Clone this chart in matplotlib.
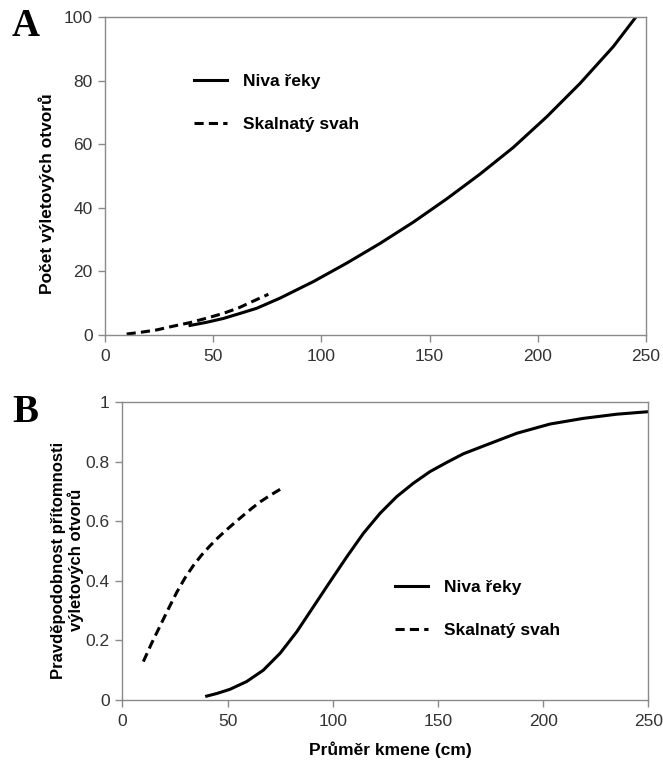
import matplotlib
matplotlib.use("Agg")
import matplotlib.pyplot as plt

plt.rcParams['font.family'] = ['Liberation Sans', 'DejaVu Sans']

# Panel A: number of exit holes vs. trunk diameter
a_niva_x = [39.3, 47, 54.7, 62, 70.1, 80.9, 96.3, 111.7, 127.1, 142.5, 157.9, 173.3, 188.7, 204.1, 219.5, 234.9, 244.9]
a_niva_y = [3.0, 4.0, 5.2, 6.7, 8.4, 11.6, 16.8, 22.6, 28.8, 35.5, 42.8, 50.6, 59.0, 68.6, 79.1, 90.7, 99.6]
a_skal_x = [10, 17, 23.9, 31, 39.3, 47, 54.7, 62, 68, 75.5]
a_skal_y = [0.3, 0.9, 1.6, 2.7, 3.9, 5.3, 6.8, 8.6, 10.5, 12.8]

# Panel B: probability of exit hole presence
b_niva_x = [40.1, 45, 51.2, 59.1, 67.0, 75.0, 82.9, 90.8, 98.7, 106.7, 114.6, 122.5, 130.4, 138.3, 146.2,
            154.2, 162.1, 171.6, 187.5, 203.3, 219.1, 235.0, 249.2]
b_niva_y = [0.013, 0.022, 0.036, 0.062, 0.100, 0.157, 0.229, 0.313, 0.397, 0.481, 0.560, 0.627, 0.683, 0.728, 0.767,
            0.798, 0.827, 0.853, 0.896, 0.927, 0.946, 0.960, 0.968]
b_skal_x = [10, 13.9, 17.9, 21.9, 25.9, 29.8, 33.8, 37.7, 41.7, 45.6, 49.6, 53.5, 57.5, 61.4, 65.4, 70.6, 75.8]
b_skal_y = [0.129, 0.19, 0.248, 0.306, 0.362, 0.410, 0.452, 0.487, 0.518, 0.546, 0.572, 0.596, 0.620, 0.643, 0.665, 0.689, 0.711]

xticks = [0, 50, 100, 150, 200, 250]
a_yticks = [0, 20, 40, 60, 80, 100]
b_yticks = [0, 0.2, 0.4, 0.6, 0.8, 1.0]
b_yticklabels = ['0', '0.2', '0.4', '0.6', '0.8', '1']

labels = ['Niva řeky', 'Skalnatý svah']

fig = plt.figure(figsize=(6.63, 7.65), dpi=100)
axA = fig.add_axes([105/663, 1-335/765, (646-105)/663, (335-17)/765])
axB = fig.add_axes([122.3/663, 1-700/765, (648.3-122.3)/663, (700-402.3)/765])

spine_col = '#8a8a8a'
tick_col = '#333333'
FS_TICK = 12.5
FS_LAB = 12.5

def style(ax):
    for s in ax.spines.values():
        s.set_color(spine_col)
        s.set_linewidth(1.0)
    ax.tick_params(direction='out', length=5, width=1, color=spine_col,
                   labelcolor=tick_col, labelsize=FS_TICK, pad=4)
    ax.tick_params(axis='x', pad=5)

lwd = 2.2
leg_kw = dict(frameon=False, prop={'weight': 'bold', 'size': FS_LAB},
              handlelength=1.9, handletextpad=0.9, labelspacing=1.6,
              borderpad=0, borderaxespad=0, loc='center left')

axA.plot(a_niva_x, a_niva_y, color='black', lw=lwd, label=labels[0])
axA.plot(a_skal_x, a_skal_y, color='black', lw=lwd, dashes=(3.0, 1.7), label=labels[1])
axA.set_xlim(0, 250)
axA.set_ylim(0, 100)
axA.set_xticks(xticks)
axA.set_yticks(a_yticks)
style(axA)
axA.set_ylabel('Počet výletových otvorů', fontsize=FS_LAB, fontweight='bold', va='center')
axA.yaxis.set_label_coords((46.7-105)/541, (335-193.5)/318)
axA.legend(bbox_to_anchor=((194-105)/541, (335-103)/318), **leg_kw)

axB.plot(b_niva_x, b_niva_y, color='black', lw=lwd, label=labels[0])
axB.plot(b_skal_x, b_skal_y, color='black', lw=lwd, dashes=(3.0, 1.7), label=labels[1])
axB.set_xlim(0, 250)
axB.set_ylim(0, 1)
axB.set_xticks(xticks)
axB.set_yticks(b_yticks)
axB.set_yticklabels(b_yticklabels)
style(axB)
axB.set_ylabel('Pravděpodobnost přítomnosti\nvýletových otvorů', fontsize=FS_LAB - 0.5,
               fontweight='bold', va='center', linespacing=1.15)
axB.yaxis.set_label_coords((67.5-122.3)/526, (700-560)/297.7)
axB.set_xlabel('Průměr kmene (cm)', fontsize=FS_LAB, fontweight='bold', va='center')
axB.xaxis.set_label_coords((390-122.3)/526, (700-750)/297.7)
axB.legend(bbox_to_anchor=((395-122.3)/526, (700-609)/297.7), **leg_kw)

fig.text(12/663, 1-27/765, 'A', fontsize=28, fontweight='bold',
         family=['Liberation Serif', 'DejaVu Serif'], va='center', ha='left')
fig.text(12/663, 1-413/765, 'B', fontsize=28, fontweight='bold',
         family=['Liberation Serif', 'DejaVu Serif'], va='center', ha='left')

fig.savefig('out.png', dpi=100, facecolor='white')
